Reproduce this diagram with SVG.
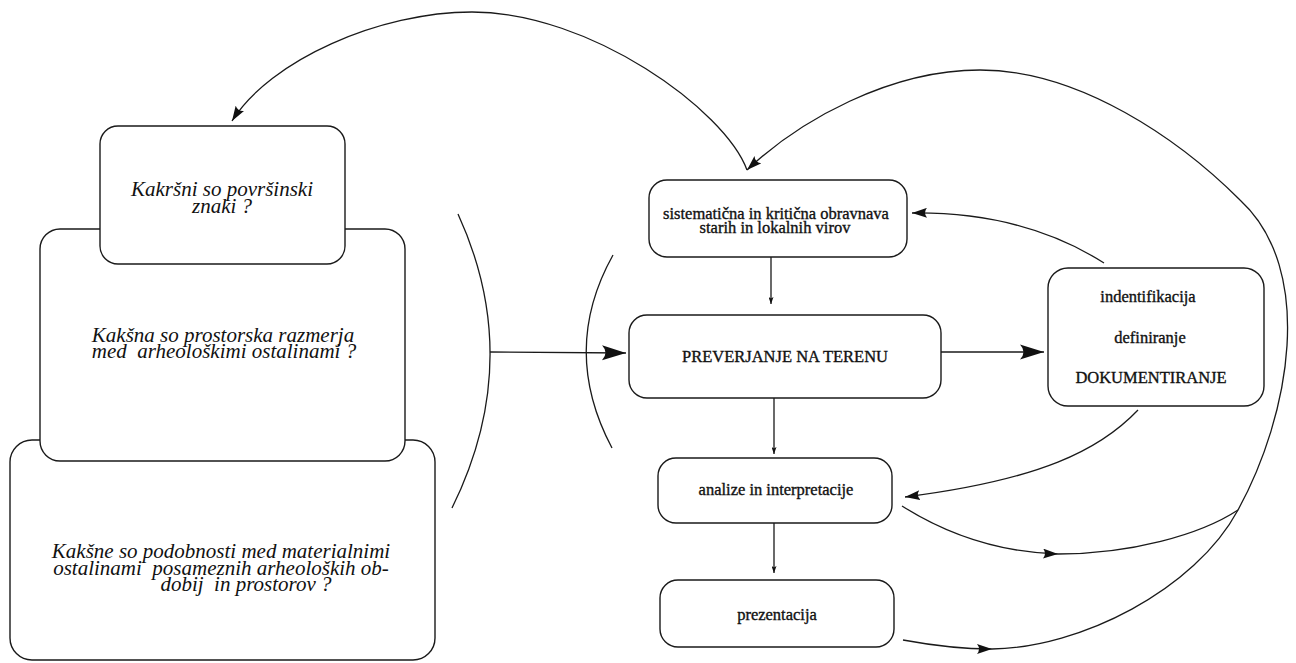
<svg xmlns="http://www.w3.org/2000/svg" width="1296" height="663" viewBox="0 0 1296 663">
<style>
  .box { fill: #fff; stroke: #1a1a1a; stroke-width: 1.4; }
  .q { font-family: "Liberation Serif", "Times New Roman", serif; font-style: italic; font-size: 21px; fill: #111; text-anchor: middle; white-space: pre; }
  .t { font-family: "Liberation Serif", "Times New Roman", serif; font-size: 16.5px; fill: #111; stroke: #111; stroke-width: 0.35; text-anchor: middle; }
  .c { fill: none; stroke: #1a1a1a; stroke-width: 1.3; }
  .ah { fill: #111; }
</style>
<defs>
  <marker id="big" viewBox="0 0 24 16" refX="24" refY="8" markerWidth="24" markerHeight="16" orient="auto" markerUnits="userSpaceOnUse">
    <path class="ah" d="M24,8 L0,0.5 Q7,8 0,15.5 Z"/>
  </marker>
  <marker id="med" viewBox="0 0 15 10" refX="15" refY="5" markerWidth="15" markerHeight="10" orient="auto" markerUnits="userSpaceOnUse">
    <path class="ah" d="M15,5 L0,0 Q4,5 0,10 Z"/>
  </marker>
  <marker id="small" viewBox="0 0 7 5" refX="7" refY="2.5" markerWidth="7" markerHeight="5" orient="auto" markerUnits="userSpaceOnUse">
    <path class="ah" d="M7,2.5 L0,0 L1.5,2.5 L0,5 Z"/>
  </marker>
</defs>

<g id="q3">
  <rect class="box" x="10" y="440" width="425" height="220" rx="22"/>
  <text class="q" x="221" y="558">Kakšne so podobnosti med materialnimi<tspan x="221" dy="17">ostalinami  posameznih arheoloških ob-</tspan><tspan x="246" dy="16">dobij  in prostorov ?</tspan></text>
</g>
<g id="q2">
  <rect class="box" x="40" y="229" width="365" height="232" rx="20"/>
  <text class="q" x="223" y="342">Kakšna so prostorska razmerja<tspan x="224" dy="16">med  arheološkimi ostalinami ?</tspan></text>
</g>
<g id="q1">
  <rect class="box" x="100" y="126" width="245" height="138" rx="18"/>
  <text class="q" x="222" y="196">Kakršni so površinski<tspan x="222" dy="17">znaki ?</tspan></text>
</g>

<g id="sistematicna">
  <rect class="box" x="649" y="180" width="258" height="77" rx="18"/>
  <text class="t" x="776" y="219">sistematična in kritična obravnava<tspan x="775" dy="14">starih in lokalnih virov</tspan></text>
</g>
<g id="preverjanje">
  <rect class="box" x="629" y="315" width="312" height="83" rx="18"/>
  <text class="t" x="785" y="362">PREVERJANJE NA TERENU</text>
</g>
<g id="dokumentiranje">
  <rect class="box" x="1048" y="268" width="216" height="138" rx="20"/>
  <text class="t" x="1148" y="302">indentifikacija</text>
  <text class="t" x="1150" y="343">definiranje</text>
  <text class="t" x="1151" y="383">DOKUMENTIRANJE</text>
</g>
<g id="analize">
  <rect class="box" x="658" y="458" width="234" height="65" rx="18"/>
  <text class="t" x="776" y="495">analize in interpretacije</text>
</g>
<g id="prezentacija">
  <rect class="box" x="660" y="580" width="234" height="67" rx="18"/>
  <text class="t" x="777" y="620">prezentacija</text>
</g>

<g id="connectors">
  <path class="c" d="M747,170 C725,110 590,12 472,12 C380,12 270,60 232,121" marker-end="url(#med)"/>
  <path class="c" d="M903,640 C930,645 960,649 992,649" marker-end="url(#med)"/>
  <path class="c" d="M992,649 C1080,648 1195,590 1238,510 C1290,415 1316,270 1240,200 C1180,140 1080,70 980,70 C890,70 800,120 747,170" marker-end="url(#med)"/>
  <path class="c" d="M902,506 C940,530 990,552 1058,554" marker-end="url(#med)"/>
  <path class="c" d="M1058,554 C1130,554 1200,535 1238,510"/>
  <path class="c" d="M1138,410 C1100,450 1040,480 905,497" marker-end="url(#med)"/>
  <path class="c" d="M1104,263 C1060,235 1000,212 912,213" marker-end="url(#med)"/>
  <path class="c" d="M941,352 L1044,352" marker-end="url(#big)"/>
  <path class="c" d="M490,352 L626,353" marker-end="url(#big)"/>
  <path class="c" d="M771,257 L771,304" marker-end="url(#small)"/>
  <path class="c" d="M774,398 L774,454" marker-end="url(#small)"/>
  <path class="c" d="M774,523 L774,573" marker-end="url(#small)"/>
  <path class="c" d="M458,214 Q525,360 452,508"/>
  <path class="c" d="M613,255 Q560,350 612,448"/>
</g>
</svg>
